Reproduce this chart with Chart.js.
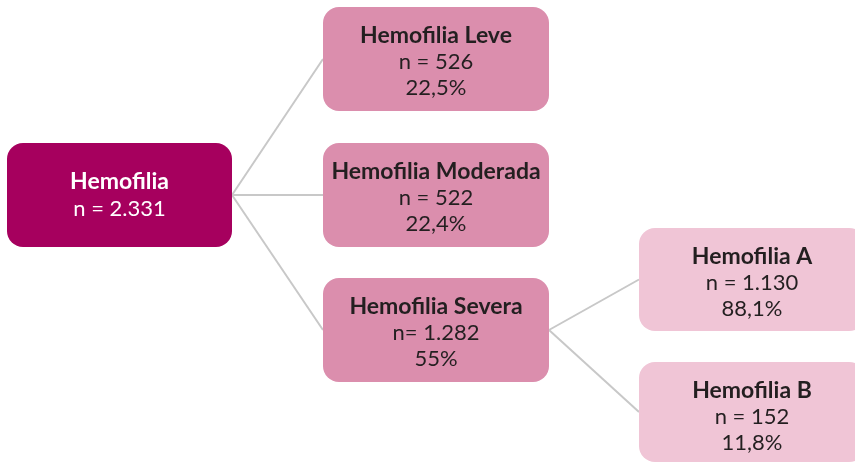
<!DOCTYPE html>
<html>
<head>
<meta charset="utf-8">
<script src="https://cdn.jsdelivr.net/npm/chart.js@4"></script>
<style>
  html, body { margin: 0; padding: 0; background: #ffffff; }
  canvas { display: block; }
</style>
</head>
<body>
<canvas id="tree" width="855" height="464"></canvas>
<script>
// tree data
const nodeNames = ['Hemofilia', 'Hemofilia Leve', 'Hemofilia Moderada', 'Hemofilia Severa', 'Hemofilia A', 'Hemofilia B'];
const countLabels = ['n = 2.331', 'n = 526', 'n = 522', 'n= 1.282', 'n = 1.130', 'n = 152'];
const shareLabels = ['', '22,5%', '22,4%', '55%', '88,1%', '11,8%'];
const parentIndex = [-1, 0, 0, 0, 3, 3];
const nodeLevel = [0, 1, 1, 1, 2, 2];

// layout, in the same units as the (hidden) axes
const boxes = [
  { x: 7, y: 143, w: 225, h: 104 },
  { x: 323, y: 7, w: 226, h: 104 },
  { x: 323, y: 143, w: 226, h: 104 },
  { x: 323, y: 278, w: 226, h: 104 },
  { x: 639, y: 228, w: 226, h: 103 },
  { x: 639, y: 362, w: 226, h: 100 }
];
const levelFill = ['#a6005e', '#db8ead', '#f0c5d6'];
const levelText = ['#ffffff', '#231f20', '#231f20'];

const connectors = [];
parentIndex.forEach((p, i) => {
  if (p < 0) return;
  const a = boxes[p];
  const b = boxes[i];
  connectors.push({
    data: [
      { x: a.x + a.w, y: a.y + a.h / 2 },
      { x: b.x, y: b.y + b.h / 2 }
    ],
    showLine: true,
    borderColor: '#c8c8c8',
    borderWidth: 2,
    pointRadius: 0
  });
});

const boxPlugin = {
  id: 'boxes',
  afterDatasetsDraw(chart) {
    const ctx = chart.ctx;
    const xs = chart.scales.x;
    const ys = chart.scales.y;
    ctx.save();
    boxes.forEach((b, i) => {
      const x0 = xs.getPixelForValue(b.x);
      const x1 = xs.getPixelForValue(b.x + b.w);
      const y0 = ys.getPixelForValue(b.y);
      const y1 = ys.getPixelForValue(b.y + b.h);
      const lvl = nodeLevel[i];
      ctx.fillStyle = levelFill[lvl];
      ctx.beginPath();
      ctx.roundRect(x0, y0, x1 - x0, y1 - y0, 16);
      ctx.fill();

      const cx = (x0 + x1) / 2;
      ctx.fillStyle = levelText[lvl];
      ctx.textAlign = 'center';
      ctx.textBaseline = 'alphabetic';
      const lines = shareLabels[i] ? [36, 62, 88] : [46, 73];
      ctx.font = 'bold 23px Lato, "Open Sans", sans-serif';
      ctx.fillText(nodeNames[i], cx, y0 + lines[0]);
      ctx.font = '22px Lato, "Open Sans", sans-serif';
      ctx.fillText(countLabels[i], cx, y0 + lines[1]);
      if (shareLabels[i]) ctx.fillText(shareLabels[i], cx, y0 + lines[2]);
    });
    ctx.restore();
  }
};

new Chart(document.getElementById('tree').getContext('2d'), {
  type: 'scatter',
  data: { datasets: connectors },
  options: {
    responsive: false,
    animation: false,
    devicePixelRatio: 1,
    layout: { padding: 0 },
    scales: {
      x: { type: 'linear', min: 0, max: 855, display: false },
      y: { type: 'linear', min: 0, max: 464, reverse: true, display: false }
    },
    plugins: {
      legend: { display: false },
      tooltip: { enabled: false }
    }
  },
  plugins: [boxPlugin]
});
</script>
</body>
</html>
